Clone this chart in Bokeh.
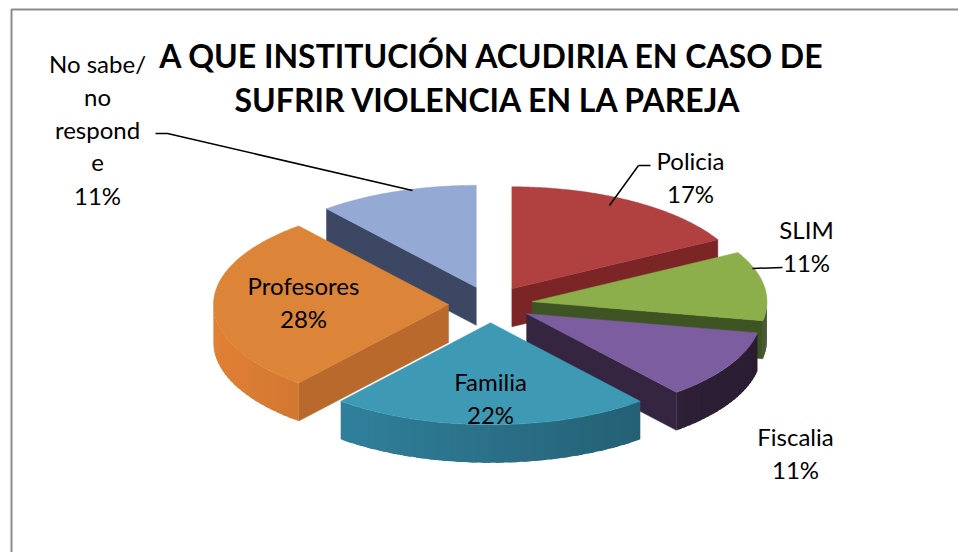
import numpy as np
from bokeh.plotting import figure
from bokeh.models import Range1d
from bokeh.embed import file_html
from bokeh.resources import INLINE
from bokeh.core.properties import value

# ---- data ----
categories = ["Policia", "SLIM", "Fiscalia", "Familia", "Profesores", "No sabe/ no responde"]
percentages = [17, 11, 11, 22, 28, 11]
title_lines = ["A QUE INSTITUCIÓN ACUDIRIA EN CASO DE", "SUFRIR  VIOLENCIA EN LA PAREJA"]

# ---- styles ----
top_colors = ["#B04140", "#8CAE4B", "#7C5EA0", "#3E9AB4", "#DC8437", "#94A9D3"]
side_colors = ["#7B2526", "#3E5523", "#352540", "#2A7088", "#B8692B", "#3C4863"]

# label text lines and positions (pixel space, y downward)
label_lines = [["Policia"], ["SLIM"], ["Fiscalia"], ["Familia"], ["Profesores"],
               ["No sabe/", "no", "respond", "e"]]
label_pos = [(690, 160), (806, 229), (795, 436), (490, 381), (303, 285), (97, 63)]
line_gap = 33

W, H = 958, 552
p = figure(width=W, height=H, x_range=Range1d(0, W), y_range=Range1d(H, 0),
           output_backend="svg", toolbar_location=None, min_border=0,
           x_axis_location=None, y_axis_location=None)
p.grid.visible = False
p.outline_line_color = None
p.background_fill_color = "white"
p.border_fill_color = "white"

# frame
p.line([11, 11, 958], [552, 9, 9], line_color="#8C8C8C", line_width=2)

# ---- 3D pie geometry ----
cx, cy = 490, 304
rx, ry = 235, 102
depth = 38
E = 42


def shade(hex_color, f):
    h = hex_color.lstrip("#")
    r, g, b = (int(h[k:k + 2], 16) for k in (0, 2, 4))
    c = [max(0, min(255, int(round(v * f)))) for v in (r, g, b)]
    return "#%02x%02x%02x" % tuple(c)


vals = np.array(percentages, dtype=float)
bounds = np.concatenate([[0], np.cumsum(vals) / vals.sum() * 2 * np.pi])


def rim(t, ox, oy):
    return ox + rx * np.sin(t), oy - ry * np.cos(t)


slices = []
for i in range(len(vals)):
    t0, t1 = bounds[i], bounds[i + 1]
    m = 0.5 * (t0 + t1)
    ox = cx + E * np.sin(m)
    oy = cy - E * (ry / rx) * np.cos(m)
    slices.append((np.cos(m), i, t0, t1, ox, oy))

# draw back to front
slices.sort(key=lambda s: -s[0])
for _, i, t0, t1, ox, oy in slices:
    sc = side_colors[i]
    # radial faces
    if np.sin(t0) < 0:
        rxp, ryp = rim(t0, ox, oy)
        p.patch([ox, rxp, rxp, ox], [oy, ryp, ryp + depth, oy + depth],
                fill_color=sc, line_color=sc, line_width=0.5)
    if np.sin(t1) > 0:
        rxp, ryp = rim(t1, ox, oy)
        p.patch([ox, rxp, rxp, ox], [oy, ryp, ryp + depth, oy + depth],
                fill_color=sc, line_color=sc, line_width=0.5)
    # curved side, shaded in overlapping bands (darker toward the right)
    a, b = max(t0, np.pi / 2), min(t1, 1.5 * np.pi)
    if b > a:
        nb = 24
        edges = np.linspace(a, b, nb + 1)
        for k in range(nb):
            e1 = min(b, edges[k + 1] + (b - a) / nb * 0.6)
            tt = np.linspace(edges[k], e1, 8)
            bx, by = rim(tt, ox, oy)
            tm = 0.5 * (edges[k] + edges[k + 1])
            col = shade(sc, 1.0 - 0.22 * np.sin(tm))
            p.patch(list(bx) + list(bx[::-1]), list(by) + list((by + depth)[::-1]),
                    fill_color=col, line_color=None)
    # top
    ts = np.linspace(t0, t1, 90)
    xs, ys = rim(ts, ox, oy)
    p.patch([ox] + list(xs), [oy] + list(ys), fill_color=top_colors[i],
            line_color=top_colors[i], line_width=0.5)

# ---- leader lines ----
p.line([638, 650], [165, 165], line_color="black", line_width=1.5)
p.line([638, 609], [165, 205], line_color="black", line_width=1.5)
p.line([752, 782], [268, 267], line_color="black", line_width=1.5)
p.line([155, 167, 412], [133, 133, 190], line_color="black", line_width=1.5)

# ---- labels ----
tx, ty, tt = [], [], []
for i, (lx, ly) in enumerate(label_pos):
    lines = label_lines[i] + [f"{percentages[i]}%"]
    for k, s in enumerate(lines):
        tx.append(lx)
        ty.append(ly + k * line_gap)
        tt.append(s)
p.text(x=tx, y=ty, text=tt, text_font=value("Lato"), text_font_size="24px",
       text_align="center", text_baseline="middle", text_color="black")

# ---- title ----
p.text(x=[492, 492], y=[55, 99], text=title_lines, text_font=value("Lato"),
       text_font_size="32px", text_font_style="bold", text_align="center",
       text_baseline="middle", text_color="black")

open("out.html", "w").write(file_html(p, INLINE))
